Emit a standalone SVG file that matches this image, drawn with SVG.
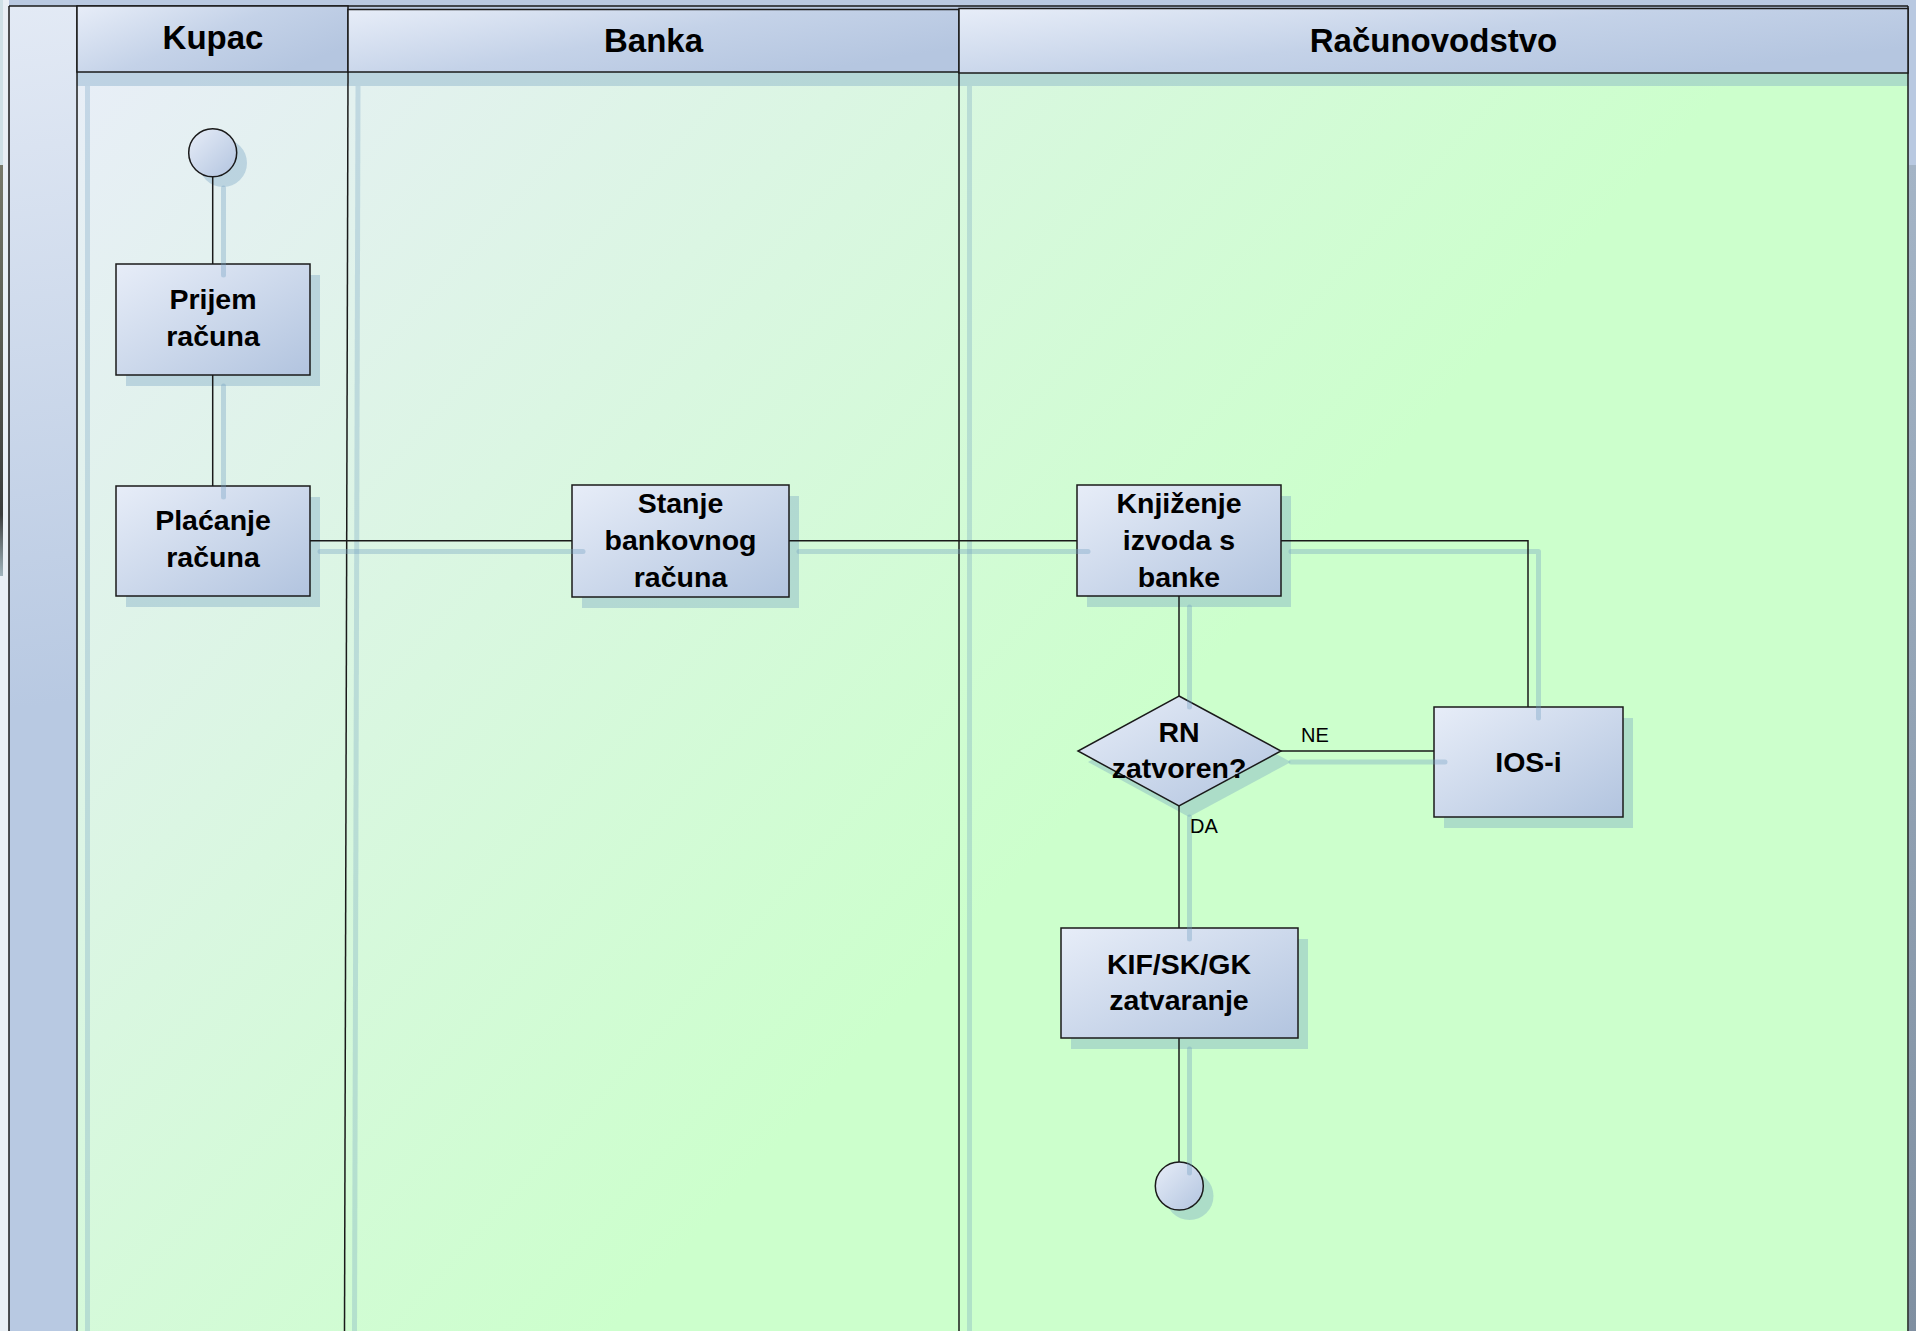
<svg xmlns="http://www.w3.org/2000/svg" width="1916" height="1331" viewBox="0 0 1916 1331">
<defs>
  <linearGradient id="poolBg" gradientUnits="userSpaceOnUse" x1="77" y1="72" x2="1000" y2="900">
    <stop offset="0" stop-color="#e8eef7"/>
    <stop offset="1" stop-color="#ccffcc"/>
  </linearGradient>
  <linearGradient id="hdr" x1="0" y1="0" x2="1" y2="0.6">
    <stop offset="0" stop-color="#e7edf8"/>
    <stop offset="0.55" stop-color="#c4d2e8"/>
    <stop offset="1" stop-color="#b5c6e0"/>
  </linearGradient>
  <linearGradient id="strip" gradientUnits="userSpaceOnUse" x1="9" y1="0" x2="90" y2="700">
    <stop offset="0" stop-color="#e3eaf5"/>
    <stop offset="1" stop-color="#b8c9e2"/>
  </linearGradient>
  <linearGradient id="nodeFill" x1="0" y1="0" x2="1" y2="1">
    <stop offset="0" stop-color="#e7edf8"/>
    <stop offset="1" stop-color="#b2c4df"/>
  </linearGradient>
  <linearGradient id="leftDark" x1="0" y1="0" x2="0" y2="1">
    <stop offset="0" stop-color="#77796a"/>
    <stop offset="0.6" stop-color="#4d4f48"/>
    <stop offset="0.85" stop-color="#3a3c3c"/>
    <stop offset="1" stop-color="#a0b4bc"/>
  </linearGradient>
  <linearGradient id="rightGrey" x1="0" y1="0" x2="0" y2="1">
    <stop offset="0" stop-color="#a4b4c6"/>
    <stop offset="1" stop-color="#7f8fa1"/>
  </linearGradient>
</defs>
<style>
  .edge{stroke:#1a1a1a;stroke-width:1.5;fill:none}
  .hdrbox{fill:url(#hdr);stroke:#1a1a1a;stroke-width:1.5}
  .node{fill:url(#nodeFill);stroke:#1a1a1a;stroke-width:1.5}
  .shd{fill:#6f9fbf;fill-opacity:0.35}
  .lshd{stroke:#6f9fbf;stroke-opacity:0.3;stroke-width:5;fill:none}
  .cshd{stroke:#6f9fbf;stroke-opacity:0.35;stroke-width:5;fill:none;stroke-linecap:round;stroke-linejoin:round}
  .conn{stroke:#1a1a1a;stroke-width:1.5;fill:none}
  .hd{font-family:"Liberation Sans",Arial,sans-serif;font-weight:bold;font-size:33px;text-anchor:middle;fill:#000}
  .t{font-family:"Liberation Sans",Arial,sans-serif;font-weight:bold;font-size:28.5px;text-anchor:middle;fill:#000}
  .lbl{font-family:"Liberation Sans",Arial,sans-serif;font-size:20px;fill:#000}
</style>

<!-- canvas surroundings -->
<rect x="0" y="0" width="1916" height="1331" fill="#b9c9e1"/>
<rect x="0" y="0" width="9" height="1331" fill="#e9eff5"/>
<rect x="0" y="0" width="3" height="165" fill="#cfe0e6"/>
<rect x="0" y="165" width="3" height="411" fill="url(#leftDark)"/>
<rect x="1909" y="165" width="7" height="1166" fill="url(#rightGrey)"/>

<!-- pool -->
<g id="pool">
  <rect x="77" y="72" width="1831" height="1259" fill="url(#poolBg)"/>
  <rect x="9" y="6" width="68" height="1325" fill="url(#strip)"/>
  <rect x="77" y="72" width="1831" height="14" class="shd"/>
  <line x1="87.5" y1="86" x2="87.5" y2="1331" class="lshd"/>
  <line x1="358" y1="86" x2="354.5" y2="1331" class="lshd"/>
  <line x1="969.5" y1="86" x2="969.5" y2="1331" class="lshd"/>
  <line x1="9" y1="6" x2="1908" y2="6" class="edge"/>
  <line x1="9" y1="6" x2="9" y2="1331" class="edge"/>
  <line x1="77" y1="6" x2="77" y2="1331" class="edge"/>
  <line x1="348" y1="72" x2="344.5" y2="1331" class="edge"/>
  <line x1="959" y1="72" x2="959" y2="1331" class="edge"/>
  <line x1="1908" y1="6" x2="1908" y2="1331" class="edge"/>
</g>

<g id="lane-kupac">
  <rect x="77" y="6" width="271" height="66" class="hdrbox"/>
  <text x="213" y="49" class="hd">Kupac</text>
</g>
<g id="lane-banka">
  <rect x="348" y="9.5" width="611" height="62.5" class="hdrbox"/>
  <text x="653.5" y="52" class="hd">Banka</text>
</g>
<g id="lane-racunovodstvo">
  <rect x="959" y="8.5" width="949" height="64.5" class="hdrbox"/>
  <text x="1433.5" y="52" class="hd">Računovodstvo</text>
</g>

<!-- nodes -->
<g id="start">
  <circle cx="223" cy="163" r="24" class="shd"/>
  <circle cx="212.7" cy="152.7" r="24" class="node"/>
</g>
<g id="prijem-racuna">
  <rect x="126" y="275" width="194" height="111" class="shd"/>
  <rect x="116" y="264" width="194" height="111" class="node"/>
  <text x="213" y="309" class="t">Prijem</text>
  <text x="213" y="346" class="t">računa</text>
</g>
<g id="placanje-racuna">
  <rect x="126" y="497" width="194" height="110" class="shd"/>
  <rect x="116" y="486" width="194" height="110" class="node"/>
  <text x="213" y="530" class="t">Plaćanje</text>
  <text x="213" y="567" class="t">računa</text>
</g>
<g id="stanje-bankovnog-racuna">
  <rect x="582" y="496" width="217" height="112" class="shd"/>
  <rect x="572" y="485" width="217" height="112" class="node"/>
  <text x="680.5" y="513" class="t">Stanje</text>
  <text x="680.5" y="550" class="t">bankovnog</text>
  <text x="680.5" y="587" class="t">računa</text>
</g>
<g id="knjizenje-izvoda">
  <rect x="1087" y="496" width="204" height="111" class="shd"/>
  <rect x="1077" y="485" width="204" height="111" class="node"/>
  <text x="1179" y="513" class="t">Knjiženje</text>
  <text x="1179" y="550" class="t">izvoda s</text>
  <text x="1179" y="587" class="t">banke</text>
</g>
<g id="rn-zatvoren">
  <polygon points="1189,707 1291,762 1189,817 1088,762" class="shd"/>
  <polygon points="1179,696 1281,751 1179,806 1078,751" class="node"/>
  <text x="1179" y="742" class="t">RN</text>
  <text x="1179" y="778" class="t">zatvoren?</text>
</g>
<g id="ios-i">
  <rect x="1444" y="718" width="189" height="110" class="shd"/>
  <rect x="1434" y="707" width="189" height="110" class="node"/>
  <text x="1528.5" y="772" class="t">IOS-i</text>
</g>
<g id="kif-sk-gk">
  <rect x="1071" y="939" width="237" height="110" class="shd"/>
  <rect x="1061" y="928" width="237" height="110" class="node"/>
  <text x="1179" y="974" class="t">KIF/SK/GK</text>
  <text x="1179" y="1010" class="t">zatvaranje</text>
</g>
<g id="end">
  <circle cx="1189.5" cy="1196" r="24" class="shd"/>
  <circle cx="1179.3" cy="1186" r="24" class="node"/>
</g>

<!-- connectors -->
<g id="connectors">
  <g id="connector-shadows">
    <path d="M223.5,188 V275" class="cshd"/>
    <path d="M223.5,386 V497" class="cshd"/>
    <path d="M320,551.5 H583" class="cshd"/>
    <path d="M799,551.5 H1088" class="cshd"/>
    <path d="M1291,551.5 H1538.5 V718" class="cshd"/>
    <path d="M1189.5,607 V707" class="cshd"/>
    <path d="M1291,762 H1445" class="cshd"/>
    <path d="M1189.5,817 V939" class="cshd"/>
    <path d="M1189.5,1049 V1173" class="cshd"/>
  </g>
  <path d="M212.7,176.7 V264" class="conn"/>
  <path d="M212.7,375 V486" class="conn"/>
  <path d="M310,540.7 H572" class="conn"/>
  <path d="M789,540.7 H1077" class="conn"/>
  <path d="M1281,540.7 H1528 V707" class="conn"/>
  <path d="M1179,596 V696" class="conn"/>
  <path d="M1281,751 H1434" class="conn"/>
  <path d="M1179,806 V928" class="conn"/>
  <path d="M1179,1038 V1162" class="conn"/>
  <text x="1301" y="742" class="lbl">NE</text>
  <text x="1190" y="833" class="lbl">DA</text>
</g>
</svg>
